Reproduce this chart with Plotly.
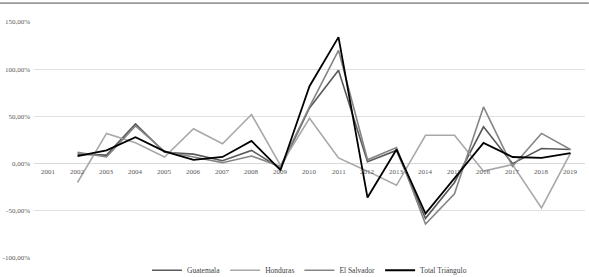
import plotly.graph_objects as go

years = [str(y) for y in range(2001, 2020)]
guatemala = [None, 10, 9, 42, 12, 10, 3, 14, -5, 59, 99, 2, 14, -58, -20, 39, 0, 16, 15]
honduras = [None, -20, 32, 22, 7, 37, 21, 52, -2, 48, 6, -8, -23, 30, 30, -8, -1, -47, 11]
el_salvador = [None, 12, 7, 40, 13, 7, 1, 8, -3, 60, 120, 4, 17, -64, -32, 60, -3, 32, 15]
total = [None, 8, 14, 28, 13, 4, 7, 24, -7, 82, 134, -36, 15, -53, -15, 22, 7, 6, 11]

series_names = ["Guatemala", "Honduras", "El Salvador", "Total Triángulo"]
series_values = [guatemala, honduras, el_salvador, total]
series_colors = ["#5a5a5a", "#a8a8a8", "#858585", "#000000"]
series_widths = [1.6, 1.6, 1.6, 1.8]

y_tickvals = [-100, -50, 0, 50, 100, 150]
y_ticktext = ["-100,00%", "-50,00%", "0,00%", "50,00%", "100,00%", "150,00%"]

FONT = "Liberation Serif"

fig = go.Figure()
for name, vals, col, w in zip(series_names, series_values, series_colors, series_widths):
    fig.add_trace(go.Scatter(
        x=years, y=vals, name=name, mode="lines",
        line=dict(color=col, width=w), connectgaps=False,
    ))

for i, yr in enumerate(years):
    fig.add_annotation(x=i, y=0, xref="x", yref="y", text=yr, showarrow=False,
                       yanchor="top", yshift=-2, font=dict(family=FONT, size=7, color="#595959"))

fig.add_shape(type="rect", xref="paper", yref="paper", x0=-0.062, x1=1.007, y0=1.076, y1=1.084,
              line=dict(width=0), fillcolor="#9a9a9a", layer="above")

fig.update_layout(
    width=589, height=277,
    margin=dict(l=34, r=4, t=22, b=19, autoexpand=False),
    paper_bgcolor="white", plot_bgcolor="white",
    font=dict(family=FONT, size=7, color="#595959"),
    showlegend=True,
    legend=dict(orientation="h", x=0.5, xanchor="center", y=-0.052, yanchor="middle",
                font=dict(family=FONT, size=7.5, color="#404040"),
                itemwidth=30, tracegroupgap=0, bgcolor="rgba(0,0,0,0)"),
    xaxis=dict(type="category", showticklabels=False, showgrid=False, zeroline=False,
               showline=False, ticks="", range=[-0.5, 18.5], automargin=False),
    yaxis=dict(range=[-100, 150], tickvals=y_tickvals, ticktext=y_ticktext,
               showgrid=True, gridcolor="#e0e0e0", gridwidth=1, zeroline=True,
               zerolinecolor="#d9d9d9", zerolinewidth=1, showline=False, ticks="",
               automargin=False, ticklabelstandoff=3,
               tickfont=dict(family=FONT, size=7, color="#595959")),
)

fig.write_html("out.html", config={"displayModeBar": False},
               post_script="document.body.style.margin='0px';document.body.style.overflow='hidden';")
